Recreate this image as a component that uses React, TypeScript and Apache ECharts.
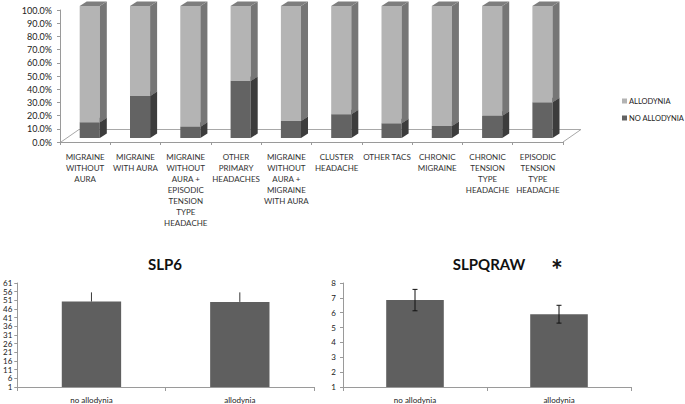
import React, { useEffect, useRef } from "react";
import * as echarts from "echarts";

const categories = [
  "MIGRAINE\nWITHOUT\nAURA",
  "MIGRAINE\nWITH AURA",
  "MIGRAINE\nWITHOUT\nAURA +\nEPISODIC\nTENSION\nTYPE\nHEADACHE",
  "OTHER\nPRIMARY\nHEADACHES",
  "MIGRAINE\nWITHOUT\nAURA +\nMIGRAINE\nWITH AURA",
  "CLUSTER\nHEADACHE",
  "OTHER TACS",
  "CHRONIC\nMIGRAINE",
  "CHRONIC\nTENSION\nTYPE\nHEADACHE",
  "EPISODIC\nTENSION\nTYPE\nHEADACHE",
];
const noAllodyniaPct = [11.9, 31.8, 8.6, 43.2, 12.9, 18.0, 11.1, 9.1, 16.9, 27.0];
const allodyniaPct = [88.1, 68.2, 91.4, 56.8, 87.1, 82.0, 88.9, 90.9, 83.1, 73.0];

const groups = ["no allodynia", "allodynia"];
const slp6Mean = [50.3, 50.1];
const slp6Err = [5.3, 5.5];
const slpqrawMean = [6.85, 5.9];
const slpqrawErr = [0.72, 0.6];

const FONT = "Lato, 'Open Sans', sans-serif";

function make3D(front: string, side: string, cap: string) {
  return (params: any, api: any) => {
    const cat = api.value(0);
    const lo = api.value(1);
    const hi = api.value(2);
    const p0 = api.coord([cat, lo]);
    const p1 = api.coord([cat, hi]);
    const band = api.size([1, 0])[0];
    const w = band * 0.4;
    const dx = 4.6, dy = -4, sx = 7, sy = -4.5;
    const x0 = p0[0] - w / 2 + dx;
    const x1 = x0 + w;
    const yb = p0[1] + dy;
    const yt = p1[1] + dy;
    return {
      type: "group",
      children: [
        { type: "rect", shape: { x: x0, y: yt, width: w, height: yb - yt }, style: { fill: front } },
        {
          type: "polygon",
          shape: { points: [[x1, yb], [x1, yt], [x1 + sx, yt + sy], [x1 + sx, yb + sy]] },
          style: { fill: side },
        },
        {
          type: "polygon",
          shape: { points: [[x0, yt], [x1, yt], [x1 + sx, yt + sy], [x0 + sx, yt + sy]] },
          style: { fill: cap },
        },
      ],
    };
  };
}

function errRender(color: string, both: boolean, capW: number) {
  return (params: any, api: any) => {
    const cat = api.value(0);
    const m = api.value(1);
    const e = api.value(2);
    const top = api.coord([cat, m + e]);
    const mid = api.coord([cat, m]);
    const bot = api.coord([cat, m - e]);
    const x = top[0];
    const children: any[] = [
      {
        type: "line",
        shape: { x1: x, y1: top[1], x2: x, y2: both ? bot[1] : mid[1] },
        style: { stroke: color, lineWidth: 1 },
      },
    ];
    if (capW > 0) {
      children.push({ type: "line", shape: { x1: x - capW, y1: top[1], x2: x + capW, y2: top[1] }, style: { stroke: color, lineWidth: 1 } });
      if (both)
        children.push({ type: "line", shape: { x1: x - capW, y1: bot[1], x2: x + capW, y2: bot[1] }, style: { stroke: color, lineWidth: 1 } });
    }
    return { type: "group", children };
  };
}

export default function App() {
  const ref = useRef<HTMLDivElement>(null);
  useEffect(() => {
    document.body.style.margin = "0";
    const chart = echarts.init(ref.current!, null, { renderer: "svg" });
    const axisLine = { lineStyle: { color: "#9a9a9a", width: 1 } };
    const lbl = { fontFamily: FONT, color: "#222", fontSize: 8 };
    const option: any = {
      animation: false,
      backgroundColor: "#fff",
      textStyle: { fontFamily: FONT },
      title: [
        { text: "SLP6", left: 160, top: 251, textAlign: "center", textStyle: { fontFamily: FONT, fontSize: 15, fontWeight: "bold", color: "#111" } },
        { text: "SLPQRAW", left: 484, top: 251, textAlign: "center", textStyle: { fontFamily: FONT, fontSize: 15, fontWeight: "bold", color: "#111" } },
      ],
      legend: {
        data: ["ALLODYNIA", "NO ALLODYNIA"],
        orient: "vertical",
        left: 622,
        top: 97,
        padding: 0,
        icon: "rect",
        itemWidth: 5,
        itemHeight: 5,
        itemGap: 9,
        textStyle: { fontFamily: FONT, fontSize: 7.5, color: "#222", padding: [0, 0, 0, -3] },
      },
      graphic: [
        {
          type: "polyline",
          z: 0,
          shape: { points: [[61, 142], [79, 129.5], [581, 129.5], [563, 142]] },
          style: { stroke: "#a8a8a8", fill: "none", lineWidth: 1 },
        },
        {
          type: "text",
          left: 551,
          top: 255,
          style: { text: "*", fontFamily: FONT, fontSize: 28, fontWeight: "bold", fill: "#111" },
        },
      ],
      grid: [
        { left: 60, right: 122, top: 10, bottom: 262 },
        { left: 16, right: 371, top: 283, bottom: 17 },
        { left: 343, right: 54, top: 283, bottom: 17 },
      ],
      xAxis: [
        {
          gridIndex: 0,
          type: "category",
          data: categories,
          axisLine,
          axisTick: { show: true, length: 3, lineStyle: { color: "#9a9a9a" } },
          axisLabel: { ...lbl, interval: 0, lineHeight: 11, margin: 9, color: "#333" },
        },
        {
          gridIndex: 1,
          type: "category",
          data: groups,
          axisLine,
          axisTick: { show: true, length: 4, lineStyle: { color: "#9a9a9a" } },
          axisLabel: { ...lbl, margin: 9 },
        },
        {
          gridIndex: 2,
          type: "category",
          data: groups,
          axisLine,
          axisTick: { show: true, length: 4, lineStyle: { color: "#9a9a9a" } },
          axisLabel: { ...lbl, margin: 9 },
        },
      ],
      yAxis: [
        {
          gridIndex: 0,
          type: "value",
          min: 0,
          max: 100,
          interval: 10,
          axisLine: { show: true, ...axisLine },
          axisTick: { show: true, length: 3, lineStyle: { color: "#9a9a9a" } },
          splitLine: { show: false },
          axisLabel: { ...lbl, fontSize: 9, margin: 8, formatter: (v: number) => v.toFixed(1) + "%" },
        },
        {
          gridIndex: 1,
          type: "value",
          min: 0,
          max: 60,
          interval: 5,
          axisLine: { show: true, ...axisLine },
          axisTick: { show: true, length: 3, lineStyle: { color: "#9a9a9a" } },
          splitLine: { show: false },
          axisLabel: { ...lbl, margin: 5, formatter: (v: number) => String(v + 1) },
        },
        {
          gridIndex: 2,
          type: "value",
          min: 1,
          max: 8,
          interval: 1,
          axisLine: { show: true, ...axisLine },
          axisTick: { show: true, length: 3, lineStyle: { color: "#9a9a9a" } },
          splitLine: { show: false },
          axisLabel: { ...lbl, margin: 7 },
        },
      ],
      series: [
        {
          name: "NO ALLODYNIA",
          type: "custom",
          xAxisIndex: 0,
          yAxisIndex: 0,
          itemStyle: { color: "#636363" },
          renderItem: make3D("#636363", "#3c3c3c", "#555555"),
          data: noAllodyniaPct.map((v, i) => [i, 0, v]),
          z: 2,
        },
        {
          name: "ALLODYNIA",
          type: "custom",
          xAxisIndex: 0,
          yAxisIndex: 0,
          itemStyle: { color: "#b3b3b3" },
          renderItem: make3D("#b4b4b4", "#767676", "#7e7e7e"),
          data: allodyniaPct.map((v, i) => [i, noAllodyniaPct[i], noAllodyniaPct[i] + v]),
          z: 3,
        },
        {
          type: "bar",
          xAxisIndex: 1,
          yAxisIndex: 1,
          barWidth: "40%",
          itemStyle: { color: "#5f5f5f" },
          data: slp6Mean.map((v) => v - 1),
        },
        {
          type: "custom",
          xAxisIndex: 1,
          yAxisIndex: 1,
          renderItem: errRender("#3a3a3a", false, 0),
          data: slp6Mean.map((v, i) => [i, v - 1, slp6Err[i]]),
          z: 5,
        },
        {
          type: "bar",
          xAxisIndex: 2,
          yAxisIndex: 2,
          barWidth: "40%",
          itemStyle: { color: "#5f5f5f" },
          data: slpqrawMean,
        },
        {
          type: "custom",
          xAxisIndex: 2,
          yAxisIndex: 2,
          renderItem: errRender("#111", true, 2.5),
          data: slpqrawMean.map((v, i) => [i, v, slpqrawErr[i]]),
          z: 5,
        },
      ],
    };
    chart.setOption(option);
    return () => chart.dispose();
  }, []);
  return <div ref={ref} style={{ width: 685, height: 404 }} />;
}
